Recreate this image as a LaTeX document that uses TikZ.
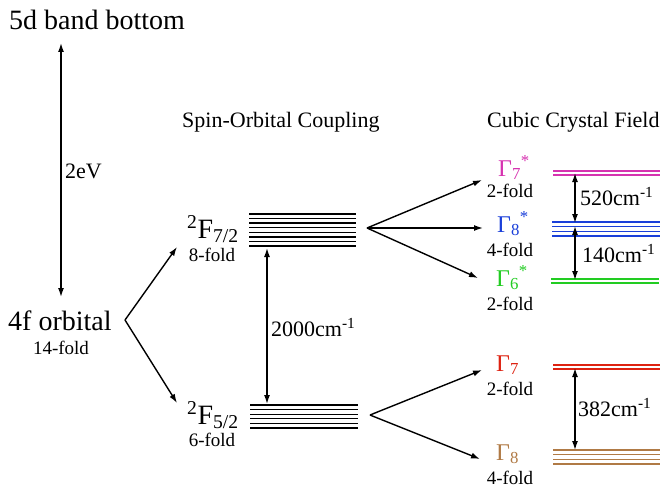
\documentclass[tikz,border=0pt]{standalone}
\usepackage{fontspec}
\setmainfont{Liberation Serif}
\usepackage{tikz}
\usetikzlibrary{arrows.meta}
\definecolor{gmag}{HTML}{D633B0}
\definecolor{gblue}{HTML}{1A3FD9}
\definecolor{ggreen}{HTML}{22CC22}
\definecolor{gred}{HTML}{DD2211}
\definecolor{gbrown}{HTML}{B07A45}
\newcommand{\pxfont}[1]{\fontsize{#1}{#1}\selectfont}
\tikzset{
  big/.style={inner sep=0pt,font=\pxfont{28},anchor=base west},
  mid/.style={inner sep=0pt,font=\pxfont{22},anchor=base west},
  fold/.style={inner sep=0pt,font=\pxfont{19},anchor=base},
  gam/.style={inner sep=0pt,font=\pxfont{24},anchor=base west,text depth=0pt},
  lvl/.style={line width=1.3pt},
  split/.style={-{Latex[length=9pt,width=6pt]},line width=1.4pt},
  gap/.style={{Latex[length=9pt,width=6pt]}-{Latex[length=9pt,width=6pt]},line width=1.4pt},
}

\begin{document}
\begin{tikzpicture}[x=1pt,y=-1pt]
        \useasboundingbox (0,0) rectangle (660,487);
        \node[big] (band) at (9,30) {5d band bottom};
        \node[big] (orb) at (8,330) {4f orbital};
        \node[fold] (orbf) at (61,354) {14-fold};
        \node[mid] (soc) at (182,127) {Spin-Orbital Coupling};
        \node[mid] (ccf) at (487,127) {Cubic Crystal Field};
        % 4f -> 5d
        \coordinate (e5d) at (61,43);
        \coordinate (e4f) at (61,297);
        \draw[gap] (e4f) -- (e5d);
        \node[mid] (ev) at (65,178) {2eV};
        % spin-orbit levels
        \foreach \i in {0,...,7} \draw[lvl] (249,214+\i*4.57) -- (356,214+\i*4.57);
        \foreach \i in {0,...,5} \draw[lvl] (250,405+\i*4.6) -- (358,405+\i*4.6);
        \node[big] (f72) at (187,238) {\textsuperscript{2}F\textsubscript{7/2}};
        \node[fold] (f72f) at (212,261) {8-fold};
        \node[big] (f52) at (187,424) {\textsuperscript{2}F\textsubscript{5/2}};
        \node[fold] (f52f) at (212,446) {6-fold};
        \coordinate (o4f) at (125,320);
        \coordinate (to72) at (177,247);
        \coordinate (to52) at (177,403);
        \draw[split] (o4f) -- (to72);
        \draw[split] (o4f) -- (to52);
        \coordinate (lo72) at (267,248);
        \coordinate (lo52) at (267,404);
        \draw[gap] (lo72) -- (lo52);
        \node[mid] (d2000) at (271,336) {2000cm\textsuperscript{-1}};
        % crystal field levels
        \foreach \i in {0,1} \draw[lvl,gmag] (553,171+\i*4) -- (660,171+\i*4);
        \foreach \i in {0,...,3} \draw[lvl,gblue] (552,222+\i*4.67) -- (660,222+\i*4.67);
        \foreach \i in {0,1} \draw[lvl,ggreen] (551,279+\i*4) -- (659,279+\i*4);
        \foreach \i in {0,1} \draw[lvl,gred] (553,365+\i*4) -- (660,365+\i*4);
        \foreach \i in {0,...,3} \draw[lvl,gbrown] (553,450+\i*4.67) -- (660,450+\i*4.67);
        \node[gam,text=gmag] (g7s) at (498,176) {Γ\textsubscript{7}\textsuperscript{*}};
        \node[fold] (g7sf) at (510,197) {2-fold};
        \node[gam,text=gblue] (g8s) at (497,232) {Γ\textsubscript{8}\textsuperscript{*}};
        \node[fold] (g8sf) at (510,256) {4-fold};
        \node[gam,text=ggreen] (g6s) at (496,286) {Γ\textsubscript{6}\textsuperscript{*}};
        \node[fold] (g6sf) at (510,310) {2-fold};
        \node[gam,text=gred] (g7) at (496,371) {Γ\textsubscript{7}};
        \node[fold] (g7f) at (510,395) {2-fold};
        \node[gam,text=gbrown] (g8) at (496,460) {Γ\textsubscript{8}};
        \node[fold] (g8f) at (510,484) {4-fold};
        \coordinate (s72) at (367,228);
        \coordinate (s52) at (370,415);
        \coordinate (t7s) at (482,180);
        \coordinate (t8s) at (483,228);
        \coordinate (t6s) at (478,278);
        \coordinate (t7) at (482,370);
        \coordinate (t8) at (480,459);
        \foreach \t in {t7s,t8s,t6s} \draw[split] (s72) -- (\t);
        \foreach \t in {t7,t8} \draw[split] (s52) -- (\t);
        % splittings
        \coordinate (l7s) at (575,173);
        \coordinate (l8sa) at (575,223);
        \coordinate (l8sb) at (575,226);
        \coordinate (l6s) at (575,280);
        \coordinate (l7) at (575,368);
        \coordinate (l8) at (575,450);
        \draw[gap] (l7s) -- (l8sa);
        \draw[gap] (l8sb) -- (l6s);
        \draw[gap] (l7) -- (l8);
        \node[mid] (d520) at (580,205) {520cm\textsuperscript{-1}};
        \node[mid] (d140) at (582,262) {140cm\textsuperscript{-1}};
        \node[mid] (d382) at (578,416) {382cm\textsuperscript{-1}};
      \end{tikzpicture}
\end{document}
